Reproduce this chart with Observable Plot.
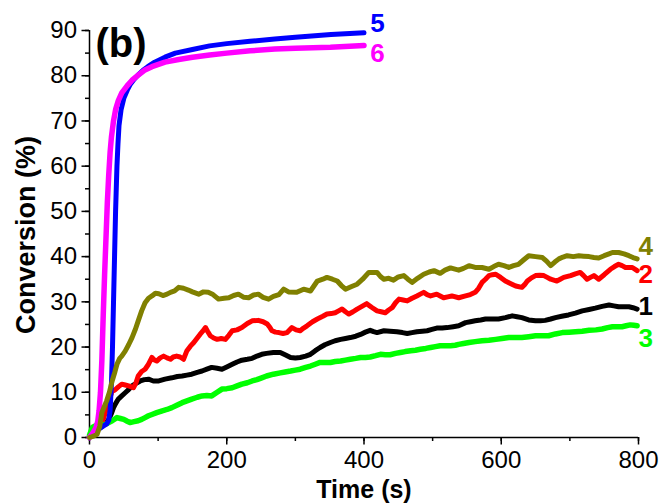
<!DOCTYPE html>
<html><head><meta charset="utf-8">
<script src="https://cdn.jsdelivr.net/npm/d3@7"></script>
<script src="https://cdn.jsdelivr.net/npm/@observablehq/plot@0.6"></script>
<style>body{margin:0;background:#fff}#chart svg{display:block}</style>
</head><body><div id="chart"></div>
<script>
// [time (s), conversion (%)]
const s1 = [[0,0.3],[8,1.2],[16,2.2],[24,3.2],[28,4],[32,5.3],[35,6.6],[38,7.5],[42,8.5],[47,9.2],[52,9.9],[57,10.6],[62,11.4],[68,12],[74,12.5],[80,12.8],[86,12.9],[93,12.5],[101,12.5],[110,12.9],[120,13.2],[128,13.5],[135,13.6],[142,13.8],[149,14],[157,14.4],[164,14.7],[171,15.1],[178,15.5],[186,15.3],[193,15.1],[200,15.6],[208,16.2],[215,16.7],[222,17.1],[230,17.3],[237,17.5],[244,18.0],[251,18.4],[258,18.6],[268,18.8],[278,18.8],[285,18.3],[293,17.7],[300,17.6],[307,17.7],[315,18.0],[322,18.4],[329,19.2],[336,19.9],[343,20.5],[351,21],[358,21.4],[366,21.7],[373,21.9],[380,22.1],[388,22.4],[395,22.8],[402,23.3],[409,23.7],[414,23.4],[419,23.2],[429,23.6],[438,23.5],[448,23.4],[456,23.2],[463,23],[470,23.2],[477,23.4],[485,23.5],[492,23.6],[499,23.9],[506,24.2],[514,24.2],[521,24.3],[530,24.5],[538,24.7],[548,25.4],[555,25.6],[562,25.8],[570,26.0],[577,26.2],[586,26.2],[596,26.2],[606,26.5],[616,26.9],[623,26.7],[630,26.5],[640,26.0],[650,25.8],[657,25.8],[664,25.9],[672,26.2],[679,26.5],[688,26.8],[698,27.1],[708,27.5],[718,28],[728,28.3],[737,28.6],[747,29.0],[757,29.3],[764,29.1],[771,28.9],[786,28.9],[792,28.7],[798,28.4]];
const s2 = [[0,0.3],[6,1.5],[12,2.3],[18,3.2],[21,4.5],[24,6],[27,7.5],[30,9],[33,10.2],[37,10.5],[42,11.2],[47,11.8],[52,11.6],[57,11.4],[61,11.2],[64,11],[68,12.2],[71,13.6],[76,14.6],[81,15.1],[86,16.2],[91,17.7],[94,17.2],[98,16.9],[103,17.6],[108,18],[113,17.6],[118,17.3],[122,17.8],[127,18],[132,17.8],[137,17.3],[142,19.2],[147,20.2],[152,21],[157,22],[161,22.8],[165,23.5],[169,24.3],[172,23.5],[176,22.5],[181,22],[186,21.7],[192,21.9],[198,21.7],[203,22.6],[208,23.6],[215,23.8],[222,24.3],[230,25.2],[237,25.8],[246,25.9],[253,25.6],[259,25.1],[263,24.3],[266,23.6],[271,23.3],[276,23.2],[282,23.0],[288,23.2],[295,24.3],[301,23.8],[307,23.6],[312,24.2],[317,24.7],[325,25.6],[332,26.2],[340,26.8],[346,27.3],[352,27.4],[358,27.6],[363,28.0],[368,28.4],[373,27.8],[378,27.3],[384,27.8],[390,28.4],[397,29.0],[404,29.6],[411,28.8],[419,28.0],[425,27.8],[431,27.6],[436,28.2],[441,28.7],[446,29.8],[451,30.6],[457,30.4],[463,30.2],[470,30.8],[477,31.3],[482,31.7],[487,32.1],[492,31.6],[497,31.3],[506,31.7],[511,31.3],[516,30.9],[522,31.1],[528,31.3],[538,30.9],[548,31.3],[555,31.6],[562,32.1],[567,33.0],[572,34.3],[577,35.0],[582,35.8],[587,36.0],[592,36.1],[599,35.4],[606,34.6],[614,34.0],[621,33.5],[630,33.2],[634,33.8],[638,34.6],[644,35.3],[650,35.8],[656,35.9],[662,35.8],[667,35.4],[672,35.0],[681,34.6],[686,35.0],[691,35.4],[701,35.8],[708,36.2],[715,36.5],[720,35.8],[725,35.0],[730,35.4],[735,35.8],[742,35.0],[750,36.0],[759,37.2],[765,37.8],[771,38.3],[776,38.0],[781,37.6],[791,37.6],[798,36.9]];
const s3 = [[0,0.5],[4,2.2],[9,2.6],[13,2.9],[18,2.8],[23,2.9],[28,3.3],[33,3.7],[37,4.1],[40,4.4],[45,4.2],[50,4],[55,3.6],[59,3.3],[65,3.5],[71,3.7],[76,4.0],[81,4.4],[86,4.8],[91,5.1],[98,5.5],[106,5.9],[113,6.2],[120,6.6],[128,7.2],[135,7.7],[142,8.1],[149,8.5],[157,8.9],[164,9.2],[171,9.3],[178,9.2],[186,10.0],[193,10.7],[200,10.8],[208,11],[215,11.4],[222,11.8],[230,12.1],[237,12.5],[244,12.8],[251,13.2],[258,13.6],[268,14],[278,14.3],[285,14.5],[293,14.7],[300,14.9],[307,15.1],[315,15.5],[322,15.8],[329,16.2],[336,16.6],[344,16.6],[351,16.6],[358,16.8],[366,16.9],[373,17.1],[380,17.3],[388,17.5],[395,17.7],[402,17.7],[409,17.8],[417,18.1],[424,18.4],[431,18.3],[438,18.3],[446,18.6],[453,18.8],[460,19.0],[468,19.2],[475,19.3],[482,19.5],[490,19.7],[497,19.9],[504,20.1],[511,20.3],[519,20.3],[526,20.3],[533,20.4],[538,20.6],[545,20.8],[553,21],[562,21.2],[572,21.4],[582,21.5],[592,21.7],[601,21.9],[611,22.1],[620,22.1],[630,22.1],[640,22.3],[650,22.5],[660,22.5],[669,22.5],[679,22.9],[689,23.2],[699,23.3],[708,23.4],[718,23.5],[728,23.7],[738,23.8],[747,24],[755,24.3],[762,24.5],[769,24.5],[776,24.5],[782,24.7],[788,24.9],[793,24.8],[798,24.7]];
const s4 = [[0,0],[6,0.3],[11,0.7],[15,2.5],[18,5.5],[22,7],[25,8.1],[29,10],[33,12.5],[37,14.5],[40,16.2],[44,17.5],[47,18],[52,19.1],[57,20.5],[62,22.1],[67,24],[71,25.8],[76,28],[81,29.8],[86,30.8],[91,31.3],[96,31.9],[101,31.8],[107,31.4],[113,31.7],[118,32.1],[124,32.4],[130,33.2],[137,33.0],[144,32.6],[150,32.2],[159,31.7],[166,32.2],[173,32.1],[180,31.6],[188,30.6],[196,30.8],[203,30.9],[210,31.4],[217,31.7],[225,31.0],[232,30.9],[239,31.5],[246,31.7],[253,31.0],[261,30.6],[268,31.2],[276,31.6],[283,32.8],[290,32.2],[302,32.1],[312,32.8],[322,32.4],[332,34.6],[340,35.0],[346,35.4],[354,35.0],[361,34.6],[367,33.6],[373,32.8],[382,33.4],[390,33.9],[398,35.0],[407,36.5],[419,36.5],[424,35.6],[429,35.0],[436,35.2],[443,34.8],[450,35.5],[458,35.8],[464,35.0],[470,34.3],[478,35.2],[487,36.1],[495,36.6],[502,36.9],[511,36.3],[518,37.0],[526,37.5],[538,37.0],[545,37.4],[553,38.0],[562,37.6],[572,37.6],[582,37.2],[589,37.8],[596,38.3],[604,38.0],[611,37.6],[618,38.0],[625,38.3],[632,39.2],[640,40.2],[650,40.0],[660,39.8],[666,39.0],[672,38.0],[678,38.8],[684,39.5],[690,39.9],[696,40.2],[705,40.0],[713,40.2],[720,40.1],[728,40.0],[735,39.8],[742,39.7],[750,40.2],[757,40.6],[762,40.9],[771,40.9],[779,40.6],[786,40.2],[792,39.8],[798,39.5]];
const s5 = [[0,0],[5,0.8],[10,1.5],[15,2],[20,2.5],[25,3],[28,3.8],[30,6],[32,12],[33.5,20],[35,30],[36.5,40],[38,50],[40,60],[41.5,65],[43,69],[46,72.5],[50,75],[55,76.8],[59,78],[65,79.2],[71,80.2],[78,81.2],[85,82],[95,83],[110,84.1],[125,85],[150,85.8],[175,86.6],[200,87.1],[234,87.6],[270,88.1],[300,88.5],[352,89.1],[400,89.5]];
const s6 = [[0,0],[5,1],[9,2],[12,3.5],[14,6],[16,10],[18,17],[20,27],[22,36],[24,44],[26,52],[28,58],[30,63],[32,66.5],[35,70],[38,72.5],[42,74.5],[47,76.2],[55,77.8],[62,79],[70,80],[80,81.2],[91,82],[110,83],[130,83.6],[150,84.1],[175,84.6],[200,85],[234,85.5],[270,85.9],[300,86.1],[351,86.3],[400,86.7]];

const seriesNames = ["1","2","3","5","6","4"];
const seriesData = {"1":s1,"2":s2,"3":s3,"4":s4,"5":s5,"6":s6};
const seriesColors = {"1":"#000000","2":"#ff0000","3":"#00ff00","4":"#808000","5":"#0000ff","6":"#ff00ff"};
const seriesWidths = {"1":5,"2":5,"3":5.5,"4":5,"5":5,"6":5.5};

// label anchor positions in data units (time, conversion)
const labelNames = ["5","6","4","2","1","3"];
const labelT = [409, 409, 800, 800, 800, 800];
const labelV = [91.6, 84.8, 42.2, 36.0, 29.0, 21.9];

const xMajor = [0,200,400,600,800];
const xMinor = [0,100,200,300,400,500,600,700,800];
const yMajor = [0,10,20,30,40,50,60,70,80,90];
const yMinor = d3.range(0,91,5);

const labels = labelNames.map((n,i)=>({n, t:labelT[i], v:labelV[i]}));
const font = "'Liberation Sans', Arial, Helvetica, sans-serif";

const chart = Plot.plot({
  width: 662, height: 504,
  marginLeft: 89, marginRight: 24, marginTop: 30, marginBottom: 67,
  style: {fontFamily: font, background: "#fff", color: "#000", overflow: "visible"},
  x: {domain: [0, 800]},
  y: {domain: [0, 90]},
  marks: [
    Plot.axisX({ticks: xMinor, tickSize: 4, tickFormat: () => "", label: null, strokeWidth: 1.5}),
    Plot.axisX({ticks: xMajor, tickSize: 7.5, tickPadding: 6, tickFormat: d => String(d), fontSize: 24, label: null, strokeWidth: 1.5, fill: "#000"}),
    Plot.axisY({ticks: yMinor, tickSize: 4, tickFormat: () => "", label: null, strokeWidth: 1.5}),
    Plot.axisY({ticks: yMajor, tickSize: 7.5, tickPadding: 5, tickFormat: d => String(d), fontSize: 24, label: null, strokeWidth: 1.5, fill: "#000"}),
    Plot.ruleX([0], {strokeWidth: 1.5}),
    Plot.ruleY([0], {strokeWidth: 1.5}),
    ...seriesNames.map(n => Plot.line(seriesData[n], {
      x: d => d[0], y: d => d[1],
      stroke: seriesColors[n], strokeWidth: seriesWidths[n],
      strokeLinejoin: "round", strokeLinecap: "round"
    })),
    Plot.text(labels, {x: "t", y: "v", text: "n", fill: d => seriesColors[d.n],
      textAnchor: "start", lineAnchor: "middle", fontSize: 26, fontWeight: "bold"}),
    Plot.text(["(b)"], {frameAnchor: "top-left", textAnchor: "start", lineAnchor: "middle",
      dx: 6, dy: 14, fontSize: 40, fontWeight: "bold", fill: "#000"}),
    Plot.text(["Time (s)"], {frameAnchor: "bottom", textAnchor: "middle", lineAnchor: "middle",
      dy: 52, fontSize: 25, fontWeight: "bold", fill: "#000"}),
    Plot.text(["Conversion (%)"], {frameAnchor: "left", textAnchor: "middle", lineAnchor: "middle", rotate: -90,
      dx: -63, dy: 1, fontSize: 27, fontWeight: "bold", fill: "#000"})
  ]
});
document.getElementById("chart").appendChild(chart);
</script>
</body></html>
